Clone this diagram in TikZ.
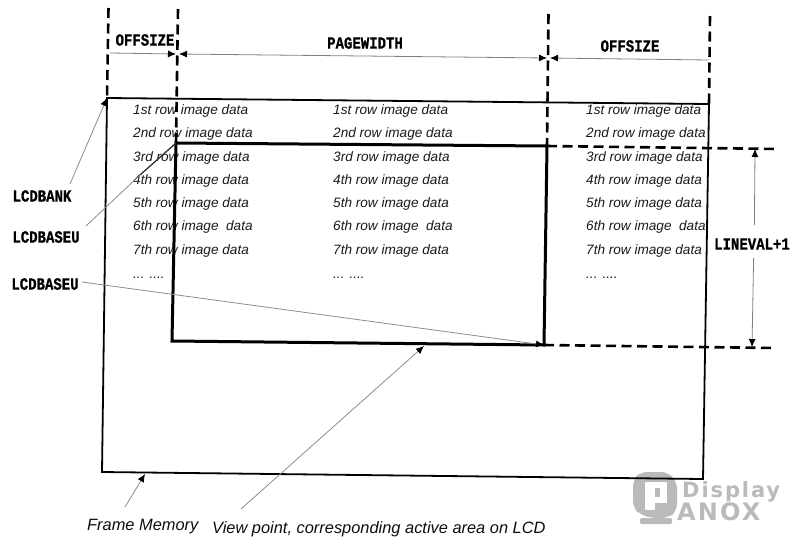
\documentclass[tikz,border=0pt]{standalone}
\usepackage{fontspec}
\setmainfont{Liberation Sans}
\newfontfamily\slabfont{Liberation Mono}[BoldFeatures={FakeBold=1.0}]
\newfontfamily\logofont{DejaVu Sans}[LetterSpace=9]
\usetikzlibrary{arrows.meta}
\newcommand{\slabtxt}[1]{\scalebox{1}[1.22]{#1}}
\tikzset{
  x=1pt,y=-1pt,
  rowtext/.style={anchor=base west,inner sep=0pt,font=\fontsize{13.6}{15}\selectfont\itshape,text=black!90},
  slab/.style={anchor=center,inner sep=0pt,font=\fontsize{14}{16}\selectfont\slabfont\bfseries,text=black},
  note/.style={anchor=base west,inner sep=0pt,font=\fontsize{16.4}{19}\selectfont\itshape,text=black!95},
  frameline/.style={line width=1.8pt,black,line join=miter},
  viewline/.style={line width=3pt,black,line join=miter},
  dashline/.style={line width=2.6pt,black,dash pattern=on 10pt off 5.5pt},
  thin gray/.style={line width=0.8pt,black!45},
  dimline/.style={line width=0.8pt,black!50},
  head/.style={-{Latex[length=8pt,width=7pt,black]}},
  heads/.style={{Latex[length=8pt,width=7pt,black]}-{Latex[length=8pt,width=7pt,black]}},
  wmfill/.style={fill=black!27,draw=none},
}
\begin{document}
\begin{tikzpicture}
\useasboundingbox (0,0) rectangle (800,547);
% watermark
\fill[wmfill,rounded corners=7pt] (633,480) -- (640,472) -- (668,472) -- (677,482) -- (677,511) -- (668,518) -- (650,518) -- (640,514) -- (633,508) -- cycle;
\fill[wmfill,rounded corners=2pt] (640,518) rectangle (672,524);
\fill[white] (645,482) rectangle (667,503);
\fill[white] (645,503) rectangle (655,510);
\fill[wmfill] (655,488) rectangle (660,497);
\node[inner sep=0pt,anchor=base west,text=black!27,font=\fontsize{21}{22}\selectfont\logofont\bfseries] (wm1) at (682,497) {Display};
\node[inner sep=0pt,anchor=base west,text=black!27,font=\fontsize{24}{25}\selectfont\logofont\bfseries] (wm2) at (677,520) {ANOX};
% corner and end points
\coordinate (fTL) at (107,98);
\coordinate (fTR) at (709,104);
\coordinate (fBR) at (703,479);
\coordinate (fBL) at (102,472);
\coordinate (vTL) at (176,143);
\coordinate (vTR) at (547,146);
\coordinate (vBR) at (544,345);
\coordinate (vBL) at (172,341);
\coordinate (d1) at (108.5,8);
\coordinate (d2) at (178,9);
\coordinate (d3) at (548.5,14);
\coordinate (d4) at (710,16);
\coordinate (h1) at (779,149);
\coordinate (h2) at (775,348);
% row texts
\foreach \cx/\c in {133/a,333/b,586/c}{
  \node[rowtext] (\c1) at (\cx,114) {1st row image data};
  \node[rowtext] (\c2) at (\cx,137) {2nd row image data};
  \node[rowtext] (\c3) at (\cx,161) {3rd row image data};
  \node[rowtext] (\c4) at (\cx,184) {4th row image data};
  \node[rowtext] (\c5) at (\cx,207) {5th row image data};
  \node[rowtext] (\c6) at (\cx,230) {6th row image\ \ data};
  \node[rowtext] (\c7) at (\cx,254) {7th row image data};
  \node[rowtext] (\c8) at (\cx,278) {... ....};
}
% frame memory and view rectangle
\draw[frameline] (fTL) -- (fTR) -- (fBR) -- (fBL) -- cycle;
\draw[viewline] (vTL) -- (vTR) -- (vBR) -- (vBL) -- cycle;
% dashed guides
\draw[dashline] (d1) -- (fTL);
\draw[dashline] (d2) -- (vTL);
\draw[dashline] (d3) -- (vTR);
\draw[dashline] (d4) -- (fTR);
\draw[dashline] (vTR) -- (h1);
\draw[dashline] (vBR) -- (h2);
% labels
\node[slab] (off1) at (145,40) {\slabtxt{OFFSIZE}};
\node[slab] (pw) at (365,43) {\slabtxt{PAGEWIDTH}};
\node[slab] (off2) at (630,46) {\slabtxt{OFFSIZE}};
\node[slab] (lineval) at (752,244) {\slabtxt{LINEVAL+1}};
\node[slab] (bank) at (42,196) {\slabtxt{LCDBANK}};
\node[slab] (base1) at (46,237) {\slabtxt{LCDBASEU}};
\node[slab] (base2) at (45,284) {\slabtxt{LCDBASEU}};
\node[note] (frame) at (87,530) {Frame Memory};
\node[note] (view) at (212,533) {View point, corresponding active area on LCD};
% dimension arrows
\coordinate (o1a) at (110,53);
\coordinate (o1b) at (176,54);
\coordinate (o2a) at (179,54);
\coordinate (o2b) at (547,58);
\coordinate (o3a) at (550,58);
\coordinate (o3b) at (709,60);
\draw[dimline,head] (o1a) -- (o1b);
\draw[dimline,heads] (o2a) -- (o2b);
\draw[dimline,head] (o3b) -- (o3a);
\coordinate (lvT) at (755,149);
\coordinate (lvB) at (752,347);
\coordinate (lvM1) at (754.4,225);
\coordinate (lvM2) at (753.6,258);
\draw[dimline,head] (lvM1) -- (lvT);
\draw[dimline,head] (lvM2) -- (lvB);
% leaders
\coordinate (bankS) at (70,184);
\coordinate (base1S) at (86,226);
\coordinate (base1M) at (140,175);
\coordinate (base2S) at (82,282);
\coordinate (viewS) at (241,509);
\coordinate (viewE) at (424,346);
\coordinate (frameS) at (125,507);
\coordinate (frameE) at (145,474);
\draw[thin gray,head] (bankS) -- (fTL);
\draw[thin gray] (base1S) -- (base1M);
\draw[line width=1.3pt,black!80] (base1M) -- (vTL);
\draw[thin gray,head] (base2S) -- (vBR);
\draw[thin gray,head] (viewS) -- (viewE);
\draw[thin gray,head] (frameS) -- (frameE);
\end{tikzpicture}
\end{document}
